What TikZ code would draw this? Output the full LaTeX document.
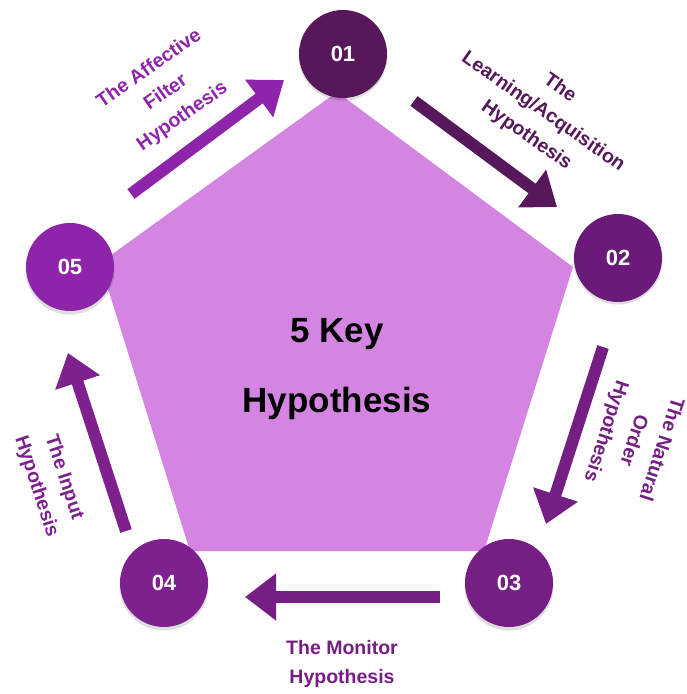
\documentclass[tikz,border=0pt]{standalone}
\usepackage{fontspec}
\setmainfont{Liberation Sans}
\usetikzlibrary{arrows.meta}

\definecolor{pent}{HTML}{D485E1}
\definecolor{cA}{HTML}{57175B}
\definecolor{cB}{HTML}{6A1B7A}
\definecolor{cC}{HTML}{751E83}
\definecolor{cD}{HTML}{7E208D}
\definecolor{cE}{HTML}{8E24AA}

\tikzset{
  stage/.style={circle, minimum size=88pt, inner sep=0pt, text=white,
    font=\bfseries\fontsize{22}{26}\selectfont},
  flow/.style={line width=12pt, line cap=butt,
    -{Triangle[width=45pt,length=31pt]}},
  lbl/.style={align=center, inner sep=0pt,
    font=\bfseries\fontsize{19.5}{29}\selectfont},
  ttl/.style={anchor=base, inner sep=0pt, text=black,
    font=\bfseries\fontsize{35}{40}\selectfont},
  shade/.style={fill=black, opacity=0.13},
}

\begin{document}
\begin{tikzpicture}[x=1pt, y=-1pt]
\useasboundingbox (0,0) rectangle (686,694);

% central pentagon
\fill[pent] (337,92) -- (573,267) -- (484,551) -- (190,551) -- (100,263) -- cycle;

% title
\node[ttl] (title1) at (337,342) {5 Key};
\node[ttl] (title2) at (337,412) {Hypothesis};

% soft shadows under the stage circles
\foreach \p in {(343,56),(618,260),(509,586),(164,586),(70,270)}
  \fill[shade] \p circle (44.5pt);

% stage circles
\node[stage, fill=cA] (s1) at (343,54)  {01};
\node[stage, fill=cB] (s2) at (618,258) {02};
\node[stage, fill=cC] (s3) at (509,583) {03};
\node[stage, fill=cD] (s4) at (164,583) {04};
\node[stage, fill=cE] (s5) at (70,267)  {05};

% arrow end points
\coordinate (a5) at (131,194); \coordinate (b5) at (284,80);
\coordinate (a1) at (414,101); \coordinate (b1) at (557,207);
\coordinate (a2) at (603,347); \coordinate (b2) at (546,524);
\coordinate (a3) at (440,597); \coordinate (b3) at (245,597);
\coordinate (a4) at (126,531); \coordinate (b4) at (68,353);

\draw[flow, cE] (a5) -- (b5);
\draw[flow, cA] (a1) -- (b1);
\draw[flow, cC] (a2) -- (b2);
\draw[flow, cC] (a3) -- (b3);
\draw[flow, cD] (a4) -- (b4);

% hypothesis labels
\node[lbl, text=cE, rotate=35]   (l5) at (166,93)  {The Affective\\Filter\\Hypothesis};
\node[lbl, text=cA, rotate=-35]  (l1) at (543,112) {The\\Learning/Acquisition\\Hypothesis};
\node[lbl, text=cC, rotate=-108] (l2) at (633,440) {The Natural\\Order\\Hypothesis};
\node[lbl, text=cC]              (l3) at (342,664) {The Monitor\\Hypothesis};
\node[lbl, text=cD, rotate=-72]  (l4) at (50,482)  {The Input\\Hypothesis};
\end{tikzpicture}
\end{document}
